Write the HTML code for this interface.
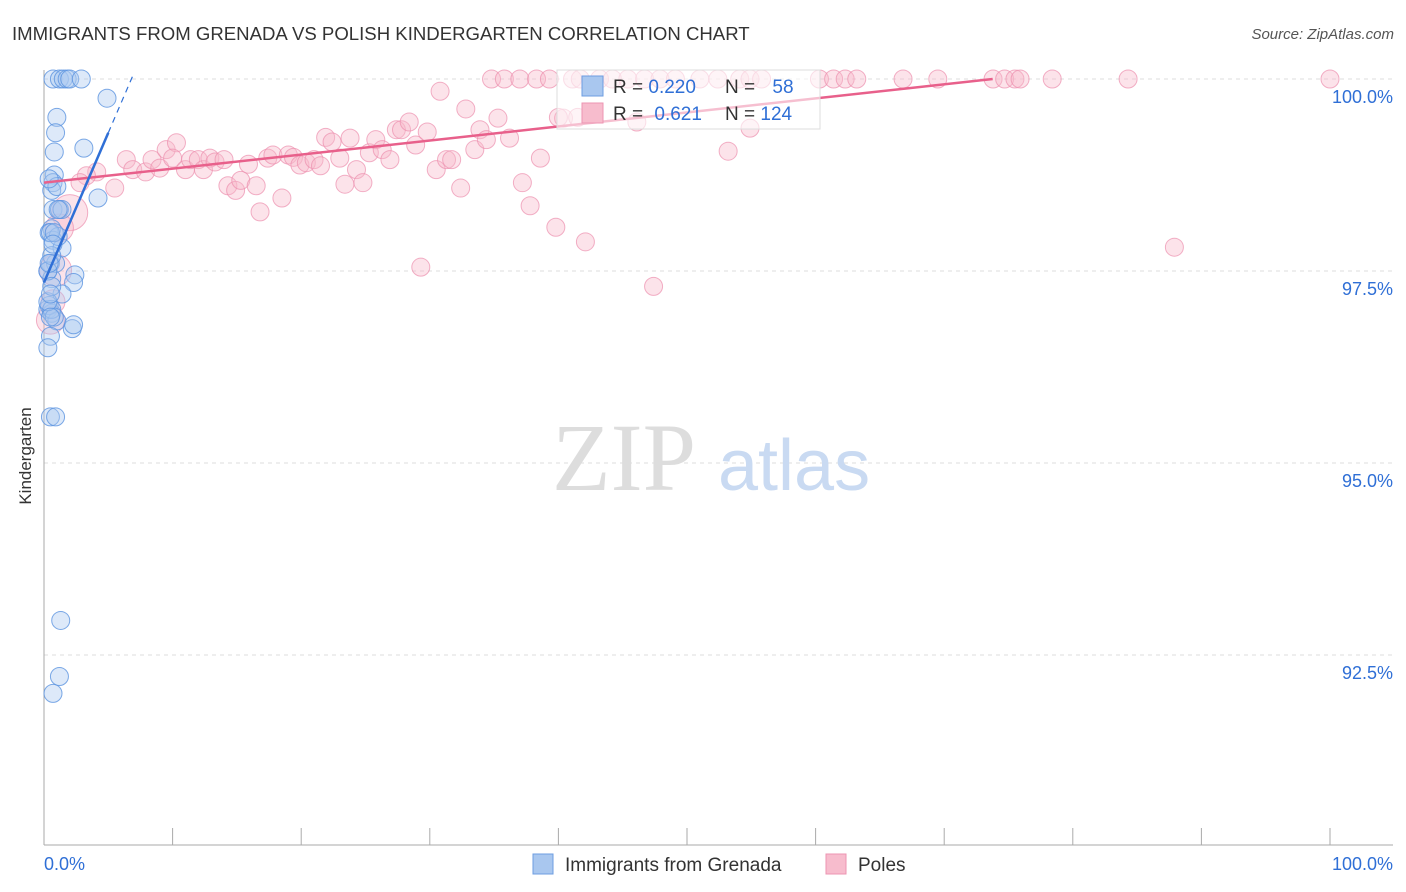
<!DOCTYPE html>
<html><head><meta charset="utf-8">
<style>
body{margin:0;background:#fff;font-family:"Liberation Sans",sans-serif;}
svg{display:block}
</style></head>
<body>
<svg id="chart" width="1406" height="892" xmlns="http://www.w3.org/2000/svg">
<text x="12" y="40" font-size="18.6" fill="#333">IMMIGRANTS FROM GRENADA VS POLISH KINDERGARTEN CORRELATION CHART</text>
<text x="1394" y="39" font-size="15" fill="#555" text-anchor="end" font-style="italic">Source: ZipAtlas.com</text>
<text x="31" y="456" font-size="17" fill="#333" text-anchor="middle" transform="rotate(-90 31 456)">Kindergarten</text>
<g id="grid"></g>
<text x="552" y="490" font-size="96" fill="#ddd" font-family="Liberation Serif,serif">ZIP</text>
<text x="718" y="490" font-size="72" fill="#c9daf2">atlas</text>
<g id="marks"></g>
<g id="lines"></g>
<g>
<rect x="557" y="70" width="263" height="59" fill="#fff" fill-opacity="0.6" stroke="#ddd"/>
<rect x="582" y="76" width="21" height="20" fill="#a9c7ef" stroke="#6d9de0"/>
<rect x="582" y="103" width="21" height="20" fill="#f7bccd" stroke="#ec94b2"/>
<text x="613" y="93" font-size="19" fill="#333">R = <tspan fill="#2f6fd6">0.220</tspan></text>
<text x="725" y="93" font-size="19" fill="#333">N = <tspan fill="#2f6fd6" dx="12">58</tspan></text>
<text x="613" y="120" font-size="19" fill="#333">R = <tspan fill="#2f6fd6" dx="6">0.621</tspan></text>
<text x="725" y="120" font-size="19" fill="#333">N = <tspan fill="#2f6fd6">124</tspan></text>
</g>
<g>
<rect x="533" y="854" width="20" height="20" fill="#a9c7ef" stroke="#6d9de0"/>
<text x="565" y="871" font-size="19" fill="#333">Immigrants from Grenada</text>
<rect x="826" y="854" width="20" height="20" fill="#f7bccd" stroke="#ec94b2"/>
<text x="858" y="871" font-size="19" fill="#333">Poles</text>
</g>
<text x="44" y="870" font-size="18" fill="#2f6fd6">0.0%</text>
<text x="1393" y="870" font-size="18" fill="#2f6fd6" text-anchor="end">100.0%</text>
</svg>
<script>
const yTicks=[100,97.5,95,92.5];
const yTickLabels=["100.0%","97.5%","95.0%","92.5%"];
const xTicks=[0,10,20,30,40,50,60,70,80,90,100];
const blueX=[0.7,1.2,1.5,1.8,2.0,2.9,4.9,1.0,0.9,3.1,0.8,0.8,0.7,0.6,4.2,0.7,1.2,1.4,0.6,0.4,0.7,1.4,0.5,0.3,2.4,0.6,2.3,1.4,0.3,0.6,1.0,2.2,2.3,0.5,0.3,0.5,0.9,1.3,1.2,0.7,0.4,0.9,1.1,0.5,0.3,0.6,0.8,1.0,0.4,0.6,0.3,0.5,1.1,0.8,0.4,0.6,0.5,0.7];
const blueY=[100,100,100,100,100,100,99.75,99.5,99.3,99.1,99.05,98.75,98.65,98.55,98.45,98.3,98.3,98.3,98.05,98.0,97.9,97.8,97.6,97.5,97.45,97.4,97.35,97.2,97.0,96.95,96.85,96.75,96.8,96.65,96.5,95.6,95.6,92.95,92.22,92.0,97.05,97.6,97.95,98.0,97.5,97.0,96.9,98.6,98.7,97.7,97.1,96.9,98.3,98.0,97.6,97.3,97.2,97.85];
const pinkX=[4.1,3.3,2.8,5.5,6.4,6.9,7.9,8.4,9.0,9.5,10.3,10.0,11.0,11.4,12.0,12.4,12.9,13.3,14.0,14.3,14.9,15.3,15.9,16.5,16.8,17.4,17.8,18.5,19.0,19.4,19.9,20.4,21.0,21.5,21.9,22.4,23.0,23.4,23.8,24.3,24.8,25.3,25.8,26.3,26.9,27.4,27.8,28.4,28.9,29.3,29.8,30.5,30.8,31.3,31.7,32.4,32.8,33.5,33.9,34.4,35.3,36.2,37.2,37.8,38.6,39.8,40.4,42.1,46.1,47.4,53.2,54.9,87.9,2.0,1.2,0.9,0.5,0.7,34.8,35.8,37.0,38.3,39.3,41.1,41.7,43.2,44.2,45.4,46.7,47.9,49.1,51.0,52.4,54.1,54.9,55.8,60.3,61.4,62.3,63.2,66.8,69.5,73.8,74.7,75.5,75.9,78.4,84.3,100,40.0,41.5];
const pinkY=[98.79,98.74,98.65,98.58,98.95,98.82,98.79,98.95,98.84,99.08,99.17,98.97,98.82,98.95,98.95,98.82,98.97,98.92,98.95,98.61,98.55,98.68,98.89,98.61,98.27,98.97,99.01,98.45,99.01,98.98,98.88,98.91,98.95,98.87,99.24,99.18,98.97,98.63,99.23,98.82,98.65,99.04,99.21,99.08,98.95,99.34,99.34,99.44,99.14,97.55,99.31,98.82,99.84,98.95,98.95,98.58,99.61,99.08,99.34,99.21,99.49,99.23,98.65,98.35,98.97,98.07,99.49,97.88,99.44,97.30,99.06,99.36,97.81,98.26,98.06,97.51,96.86,97.1,100,100,100,100,100,100,100,100,100,100,100,100,100,100,100,100,100,100,100,100,100,100,100,100,100,100,100,100,100,100,100,99.5,99.5];
const pinkR=[9,9,9,9,9,9,9,9,9,9,9,9,9,9,9,9,9,9,9,9,9,9,9,9,9,9,9,9,9,9,9,9,9,9,9,9,9,9,9,9,9,9,9,9,9,9,9,9,9,9,9,9,9,9,9,9,9,9,9,9,9,9,9,9,9,9,9,9,9,9,9,9,9,18,14,16,14,12];
const blueFit=[97.35,0.39];
const pinkFit=[98.65,0.0183];
const NS="http://www.w3.org/2000/svg";
const X0=44,X1=1330,YTOP=79,PX_PER=76.8;
function xs(v){return X0+v*(X1-X0)/100;}
function ys(v){return YTOP+(100-v)*PX_PER;}
function mk(tag,attrs,parent){const e=document.createElementNS(NS,tag);for(const k in attrs)e.setAttribute(k,attrs[k]);parent.appendChild(e);return e;}
const grid=document.getElementById('grid');
yTicks.forEach((t,i)=>{
  const l=mk('line',{x1:X0,x2:1393,y1:ys(t),y2:ys(t),stroke:'#ddd','stroke-dasharray':'4,4'},grid);
  
  
  const tx=mk('text',{x:1393,y:ys(t)+24,'font-size':18,fill:'#2f6fd6','text-anchor':'end'},grid);
  tx.textContent=yTickLabels[i];
  
  
});
const ax=mk('line',{x1:X0,x2:X0,y1:70,y2:845,stroke:'#aaa'},grid);


const bx=mk('line',{x1:X0,x2:1393,y1:845,y2:845,stroke:'#aaa'},grid);


xTicks.forEach(t=>{
  const l=mk('line',{x1:xs(t),x2:xs(t),y1:828,y2:845,stroke:'#aaa'},grid);
  
  
});
const marks=document.getElementById('marks');
pinkX.forEach((v,i)=>{
  const c=mk('circle',{cx:xs(v),cy:ys(pinkY[i]),r:pinkR[i]||9,fill:'#f7b9cb','fill-opacity':0.4,stroke:'#ec8fae','stroke-opacity':0.7},marks);
  
  
});
blueX.forEach((v,i)=>{
  const c=mk('circle',{cx:xs(v),cy:ys(blueY[i]),r:9,fill:'#a9c7ef','fill-opacity':0.4,stroke:'#5b93e0','stroke-opacity':0.8},marks);
  
  
});
const lines=document.getElementById('lines');
const pEnd=(100-pinkFit[0])/pinkFit[1];
const pl=mk('line',{x1:xs(0),y1:ys(pinkFit[0]),x2:xs(pEnd),y2:ys(100),stroke:'#e8608b','stroke-width':2.5},lines);


const bl=mk('line',{x1:xs(0),y1:ys(blueFit[0]),x2:xs(5),y2:ys(blueFit[0]+5*blueFit[1]),stroke:'#2f6fd6','stroke-width':2.5},lines);


const bd=mk('line',{x1:xs(5),y1:ys(blueFit[0]+5*blueFit[1]),x2:xs(7),y2:ys(blueFit[0]+7*blueFit[1]),stroke:'#2f6fd6','stroke-width':1.2,'stroke-dasharray':'6,5'},lines);


</script>
</body></html>
